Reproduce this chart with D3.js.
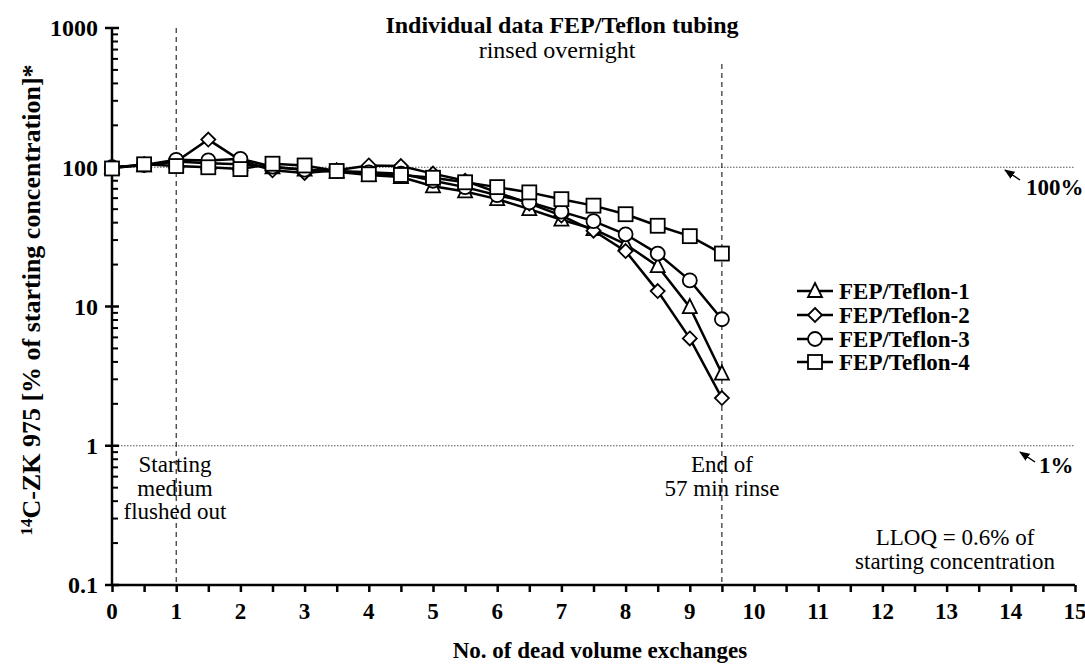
<!DOCTYPE html>
<html><head><meta charset="utf-8">
<script src="https://cdn.jsdelivr.net/npm/d3@7"></script>
<style>body{margin:0;background:#fff}svg{display:block}text{font-family:"Liberation Serif","Times New Roman",serif}</style>
</head><body><svg id="c" width="1085" height="665"></svg>
<script>
const xs = [0,0.5,1,1.5,2,2.5,3,3.5,4,4.5,5,5.5,6,6.5,7,7.5,8,8.5,9,9.5];
const teflon1 = [100,103,110,107,105,100,96,93,88,85,73,67,59,50,42,36,28,19.5,9.9,3.3];
const teflon2 = [100,104,110,158,112,95,91,95,103,102,90,80,66,55,45,35,25,12.9,5.9,2.2];
const teflon3 = [100,104,113,112,115,101,96,94,92,90,80,72,63,56,48,41,33,24,15.4,8.1];
const teflon4 = [98,105,102,100,97,106,103,94,89,88,84,78,72,66,59,53,46,38,32,24];
const seriesNames = ["FEP/Teflon-1","FEP/Teflon-2","FEP/Teflon-3","FEP/Teflon-4"];
const markers = ["triangle","diamond","circle","square"];
const xTickLabels = d3.range(0,16);
const yTickLabels = [0.1,1,10,100,1000];

const svg = d3.select("#c");
const x = d3.scaleLinear().domain([0,15]).range([112,1075]);
const y = d3.scaleLog().domain([0.1,1000]).range([585,28]);
const FS = 23;

// reference lines
[100,1].forEach(v=>{
  svg.append("line").attr("x1",x(0)).attr("x2",x(15)).attr("y1",y(v)).attr("y2",y(v))
    .attr("stroke","#555").attr("stroke-width",1).attr("stroke-dasharray","1.5,1.5");
});
svg.append("line").attr("x1",x(1)).attr("x2",x(1)).attr("y1",y(1000)).attr("y2",y(0.1))
  .attr("stroke","#000").attr("stroke-width",1).attr("stroke-dasharray","5,4");
svg.append("line").attr("x1",x(9.5)).attr("x2",x(9.5)).attr("y1",64).attr("y2",y(0.1))
  .attr("stroke","#000").attr("stroke-width",1).attr("stroke-dasharray","5,4");

// axes
const gx = svg.append("g").attr("transform",`translate(0,${y(0.1)})`)
  .call(d3.axisBottom(x).tickValues(d3.range(0,15.01,0.5)).tickSize(7).tickFormat(""));
gx.select(".domain").attr("stroke-width",2.5).attr("d",`M${x(0)},0H${x(15)}`);
gx.selectAll(".tick line").attr("stroke-width",2.5);
svg.append("g").selectAll("text").data(xTickLabels).join("text")
  .attr("x",d=>x(d)).attr("y",619).attr("text-anchor","middle")
  .attr("font-size",FS).attr("font-weight","bold").text(d=>d);

const minor = [];
for (let e=-1;e<3;e++) for (let m=2;m<10;m++) minor.push(m*Math.pow(10,e));
const gy = svg.append("g").attr("transform",`translate(${x(0)},0)`);
gy.append("line").attr("x1",0).attr("x2",0).attr("y1",y(1000)).attr("y2",y(0.1)).attr("stroke","#000").attr("stroke-width",2.5);
gy.selectAll(".mn").data(minor).join("line").attr("class","mn")
  .attr("x1",0).attr("x2",6).attr("y1",d=>y(d)).attr("y2",d=>y(d)).attr("stroke","#000").attr("stroke-width",2);
gy.selectAll(".mj").data(yTickLabels).join("line").attr("class","mj")
  .attr("x1",-7).attr("x2",7).attr("y1",d=>y(d)).attr("y2",d=>y(d)).attr("stroke","#000").attr("stroke-width",2.5);
gy.selectAll("text").data(yTickLabels).join("text")
  .attr("x",-14).attr("y",d=>y(d)).attr("dy","0.35em").attr("text-anchor","end")
  .attr("font-size",FS+1).attr("font-weight","bold").text(d=>d);

// series
const allSeries = [teflon1,teflon2,teflon3,teflon4];
const line = d3.line().x((d,i)=>x(xs[i])).y(d=>y(d));
function marker(g, type, cx, cy){
  const s = 7;
  if (type==="square") g.append("rect").attr("x",cx-s).attr("y",cy-s).attr("width",2*s).attr("height",2*s);
  else if (type==="circle") g.append("circle").attr("cx",cx).attr("cy",cy).attr("r",s);
  else if (type==="diamond") g.append("path").attr("d",`M${cx},${cy-s}L${cx+s},${cy}L${cx},${cy+s}L${cx-s},${cy}Z`);
  else g.append("path").attr("d",`M${cx},${cy-s-1}L${cx+s},${cy+s-1}L${cx-s},${cy+s-1}Z`);
}
allSeries.forEach((vals,k)=>{
  const g = svg.append("g");
  g.append("path").datum(vals).attr("d",line).attr("fill","none").attr("stroke","#000").attr("stroke-width",2.5);
  const mg = g.append("g").attr("fill","#fff").attr("stroke","#000").attr("stroke-width",1.8);
  vals.forEach((v,i)=>marker(mg, markers[k], x(xs[i]), y(v)));
});

// legend
const legY = [291,315,339,362];
seriesNames.forEach((n,k)=>{
  const g = svg.append("g");
  g.append("line").attr("x1",797).attr("x2",833).attr("y1",legY[k]).attr("y2",legY[k]).attr("stroke","#000").attr("stroke-width",2.5);
  const mg = g.append("g").attr("fill","#fff").attr("stroke","#000").attr("stroke-width",1.8);
  marker(mg, markers[k], 815, legY[k]);
  g.append("text").attr("x",839).attr("y",legY[k]).attr("dy","0.35em").attr("font-size",FS).attr("font-weight","bold").text(n);
});

// titles
svg.append("text").attr("x",562).attr("y",33).attr("text-anchor","middle").attr("font-size",FS+1).attr("font-weight","bold").text("Individual data FEP/Teflon tubing");
svg.append("text").attr("x",557).attr("y",58).attr("text-anchor","middle").attr("font-size",FS+1).text("rinsed overnight");
svg.append("text").attr("x",600).attr("y",658).attr("text-anchor","middle").attr("font-size",FS).attr("font-weight","bold").text("No. of dead volume exchanges");
const yl = svg.append("text").attr("transform","translate(40,300) rotate(-90)").attr("text-anchor","middle").attr("font-size",26).attr("font-weight","bold");
yl.append("tspan").attr("font-size",17).attr("dy","-8").text("14");
yl.append("tspan").attr("dy","8").text("C-ZK 975 [% of starting concentration]*");

// annotations
function lines(arr, cx, y0, lh){
  arr.forEach((t,i)=>svg.append("text").attr("x",cx).attr("y",y0+i*lh).attr("text-anchor","middle").attr("font-size",FS).text(t));
}
lines(["Starting","medium","flushed out"],175,472,23.5);
lines(["End of","57 min rinse"],722,472,23.5);
lines(["LLOQ = 0.6% of","starting concentration"],955,545,23.5);

svg.append("text").attr("x",1026).attr("y",195).attr("font-size",FS).attr("font-weight","bold").text("100%");
svg.append("text").attr("x",1039).attr("y",473).attr("font-size",FS).attr("font-weight","bold").text("1%");
svg.append("defs").append("marker").attr("id","ah").attr("viewBox","0 0 10 10").attr("refX",9).attr("refY",5)
  .attr("markerWidth",7).attr("markerHeight",7).attr("orient","auto")
  .append("path").attr("d","M0,1L10,5L0,9Z").attr("fill","#000");
svg.append("line").attr("x1",1020).attr("y1",180).attr("x2",1005).attr("y2",170).attr("stroke","#000").attr("stroke-width",1.5).attr("marker-end","url(#ah)");
svg.append("line").attr("x1",1035).attr("y1",462).attr("x2",1020).attr("y2",452).attr("stroke","#000").attr("stroke-width",1.5).attr("marker-end","url(#ah)");
</script></body></html>
